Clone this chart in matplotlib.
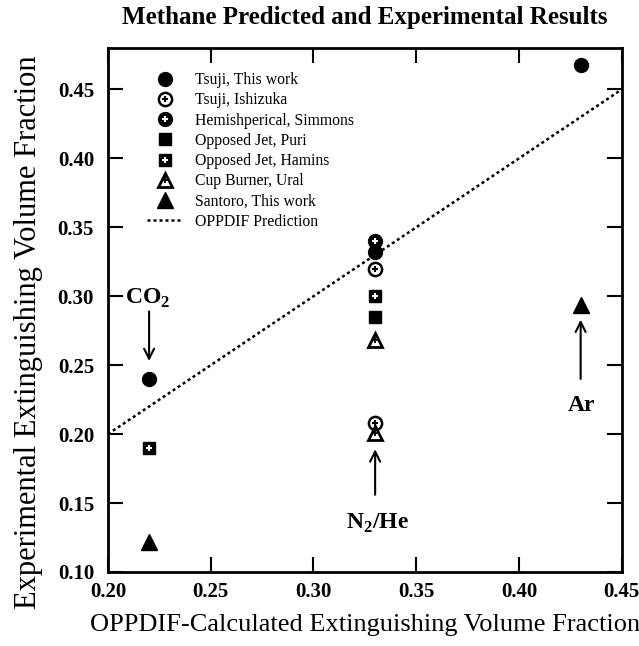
import matplotlib
matplotlib.use("Agg")
import matplotlib.pyplot as plt
from matplotlib.lines import Line2D
from matplotlib.legend_handler import HandlerTuple

plt.rcParams['font.family'] = ['Liberation Serif', 'DejaVu Serif']
plt.rcParams['mathtext.fontset'] = 'custom'
plt.rcParams['mathtext.rm'] = 'Liberation Serif'
plt.rcParams['mathtext.bf'] = 'Liberation Serif:bold'

# Data
tsuji_x = [0.22, 0.33, 0.43]
tsuji_y = [0.240, 0.332, 0.468]
ishizuka_x = [0.33, 0.33]
ishizuka_y = [0.320, 0.208]
simmons_x = [0.33]
simmons_y = [0.340]
puri_x = [0.33]
puri_y = [0.285]
hamins_x = [0.22, 0.33]
hamins_y = [0.190, 0.300]
ural_x = [0.33, 0.33]
ural_y = [0.268, 0.201]
santoro_x = [0.22, 0.43]
santoro_y = [0.122, 0.294]
pred_x = [0.20, 0.45]
pred_y = [0.20, 0.45]

xticks = [0.20, 0.25, 0.30, 0.35, 0.40, 0.45]
yticks = [0.10, 0.15, 0.20, 0.25, 0.30, 0.35, 0.40, 0.45]

fig = plt.figure(figsize=(6.39, 6.46), dpi=100)
ax = fig.add_axes([0.169, 0.1146, 0.804, 0.811])

k = 'black'
ax.plot(pred_x, pred_y, linestyle=(0, (1.2, 1.2)), color=k, lw=1.8, zorder=1)

h1, = ax.plot(tsuji_x, tsuji_y, 'o', ms=10, color=k, ls='none')
h2a, = ax.plot(ishizuka_x, ishizuka_y, 'o', ms=9.5, mfc='white', mec=k, mew=1.8, ls='none')
h2b, = ax.plot(ishizuka_x, ishizuka_y, '+', ms=5, mec=k, mew=1.5, ls='none')
h3a, = ax.plot(simmons_x, simmons_y, 'o', ms=10, color=k, ls='none')
h3b, = ax.plot(simmons_x, simmons_y, '+', ms=4.5, mec='white', mew=1.5, ls='none')
h4, = ax.plot(puri_x, puri_y, 's', ms=8.5, color=k, ls='none')
h5a, = ax.plot(hamins_x, hamins_y, 's', ms=8.5, color=k, ls='none')
h5b, = ax.plot(hamins_x, hamins_y, '+', ms=4.5, mec='white', mew=1.5, ls='none')
h6a, = ax.plot(ural_x, ural_y, '^', ms=9.5, mfc='white', mec=k, mew=2.0, ls='none')
h6b, = ax.plot(ural_x, ural_y, '+', ms=4, mec=k, mew=1.3, ls='none')
h7, = ax.plot(santoro_x, santoro_y, '^', ms=11, color=k, ls='none')
hl = Line2D([], [], linestyle=(0, (1.2, 1.2)), color=k, lw=1.8)

handles = [h1, (h2a, h2b), (h3a, h3b), h4, (h5a, h5b), (h6a, h6b), h7, hl]
labels = ['Tsuji, This work', 'Tsuji, Ishizuka', 'Hemishperical, Simmons',
          'Opposed Jet, Puri', 'Opposed Jet, Hamins', 'Cup Burner, Ural',
          'Santoro, This work', 'OPPDIF Prediction']
ax.legend(handles, labels, loc='upper left', bbox_to_anchor=(0.063, 0.966),
          frameon=False, borderaxespad=0, fontsize=11.3, numpoints=1,
          handlelength=2.3, handletextpad=0.8, labelspacing=0.27,
          handler_map={tuple: HandlerTuple(ndivide=1)})

ax.set_xlim(0.20, 0.45)
ax.set_ylim(0.10, 0.48)
ax.set_xticks(xticks)
ax.set_yticks(yticks)
ax.set_xticklabels([f'{v:.2f}' for v in xticks], fontweight='bold', fontsize=15)
ax.set_yticklabels([f'{v:.2f}' for v in yticks], fontweight='bold', fontsize=15)
ax.tick_params(direction='in', length=11, width=1.5, top=True, right=True)
ax.tick_params(axis='y', pad=10)
ax.tick_params(axis='x', pad=7)
for s in ax.spines.values():
    s.set_linewidth(2)

ax.set_title('Methane Predicted and Experimental Results', fontweight='bold',
             fontsize=18, pad=17)
ax.set_xlabel('OPPDIF-Calculated Extinguishing Volume Fraction', fontsize=19, labelpad=9)
ax.set_ylabel('Experimental Extinguishing Volume Fraction', fontsize=22)
ax.yaxis.set_label_coords(-0.127, 0.457)

arrowprops = dict(arrowstyle='->', color=k, lw=1.5, mutation_scale=18)
ax.annotate('', xy=(0.22, 0.251), xytext=(0.22, 0.291), arrowprops=arrowprops)
ax.text(0.2195, 0.2986, r'CO$_\mathbf{2}$', fontsize=17, fontweight='bold', ha='center', va='center')
ax.annotate('', xy=(0.33, 0.191), xytext=(0.33, 0.154), arrowprops=arrowprops)
ax.text(0.331, 0.1355, r'N$_\mathbf{2}$/He', fontsize=17, fontweight='bold', ha='center', va='center')
ax.annotate('', xy=(0.43, 0.285), xytext=(0.43, 0.238), arrowprops=arrowprops)
ax.text(0.4305, 0.221, 'Ar', fontsize=17, fontweight='bold', ha='center', va='center')

fig.savefig('out.png', dpi=100)
